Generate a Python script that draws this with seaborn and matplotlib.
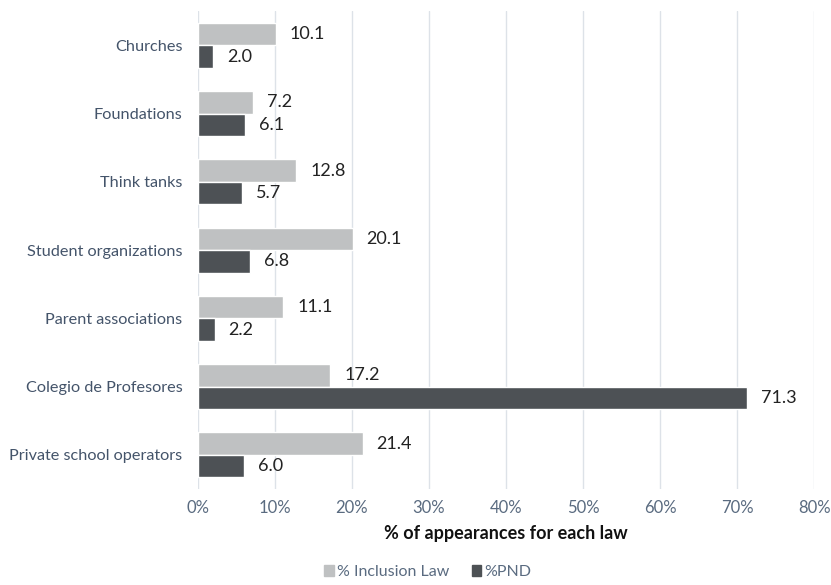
import matplotlib
matplotlib.use("Agg")
import matplotlib.pyplot as plt
import seaborn as sns
import pandas as pd
from matplotlib.ticker import PercentFormatter

categories = ["Churches", "Foundations", "Think tanks", "Student organizations",
              "Parent associations", "Colegio de Profesores", "Private school operators"]
inclusion_law = [10.1, 7.2, 12.8, 20.1, 11.1, 17.2, 21.4]
pnd = [2.0, 6.1, 5.7, 6.8, 2.2, 71.3, 6.0]
series_names = ["% Inclusion Law", "%PND"]
xticks = [0, 10, 20, 30, 40, 50, 60, 70, 80]

df = pd.DataFrame({
    "category": categories * 2,
    "value": inclusion_law + pnd,
    "series": [series_names[0]] * len(categories) + [series_names[1]] * len(categories),
})

sns.set_theme(style="white")
plt.rcParams["font.family"] = ["Lato", "DejaVu Sans"]

fig = plt.figure(figsize=(8.31, 5.85), dpi=100)
ax = fig.add_axes([0.238, 0.164, 0.742, 0.817])

palette = {series_names[0]: "#BFC1C2", series_names[1]: "#4D5155"}
sns.barplot(data=df, y="category", x="value", hue="series", order=categories,
            hue_order=series_names, palette=palette, width=0.66, ax=ax,
            saturation=1, legend=True, zorder=3)

for cont in ax.containers:
    ax.bar_label(cont, fmt="%.1f", padding=10, fontsize=13, color="#222222")

ax.set_xlim(0, 80)
ax.set_xticks(xticks)
ax.xaxis.set_major_formatter(PercentFormatter(decimals=0))
ax.grid(axis="x", color="#DDE2E8", linewidth=1.0, zorder=0)
ax.grid(axis="y", visible=False)
for s in ax.spines.values():
    s.set_visible(False)
ax.tick_params(axis="both", length=0)
ax.tick_params(axis="x", labelsize=12, labelcolor="#5A6B80", pad=8)
ax.tick_params(axis="y", labelsize=11.7, labelcolor="#44546A", pad=11)
ax.set_ylabel("")
ax.set_xlabel("% of appearances for each law", fontsize=13, fontweight="bold",
              color="#111111", labelpad=6)

ax.get_legend().remove()
handles = [plt.Rectangle((0, 0), 1, 1, color=palette[n]) for n in series_names]
fig.legend(handles, series_names, loc="center", bbox_to_anchor=(0.515, 0.022),
           ncol=2, frameon=False, fontsize=11.5, handlelength=0.6, handleheight=0.6,
           handletextpad=0.2, columnspacing=1.4, labelcolor="#5A6B80")

fig.savefig("out.png", dpi=100)
